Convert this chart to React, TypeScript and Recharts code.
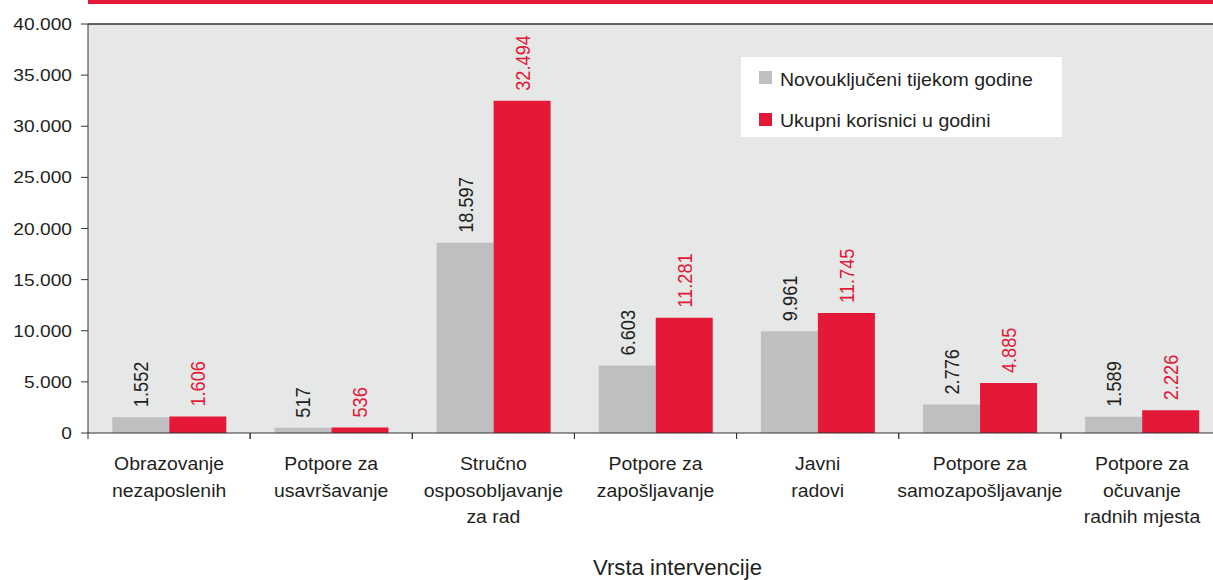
import React from 'react';
import { BarChart, Bar, XAxis, YAxis, CartesianGrid, ReferenceLine, LabelList, Legend } from 'recharts';

const categories = [
  'Obrazovanje\nnezaposlenih',
  'Potpore za\nusavršavanje',
  'Stručno\nosposobljavanje\nza rad',
  'Potpore za\nzapošljavanje',
  'Javni\nradovi',
  'Potpore za\nsamozapošljavanje',
  'Potpore za\nočuvanje\nradnih mjesta',
];
const novoukljuceni = [1552, 517, 18597, 6603, 9961, 2776, 1589];
const ukupni = [1606, 536, 32494, 11281, 11745, 4885, 2226];
const yTicks = [0, 5000, 10000, 15000, 20000, 25000, 30000, 35000, 40000];
const seriesNames = ['Novouključeni tijekom godine', 'Ukupni korisnici u godini'];
const axisTitle = 'Vrsta intervencije';

const GREY = '#BEBFC1';
const RED = '#E31937';
const TEXT = '#231F20';
const BG = '#E6E7E7';
const FONT = '"Liberation Sans", Arial, Helvetica, sans-serif';

const data = categories.map((c, i) => ({ name: c, novi: novoukljuceni[i], ukupni: ukupni[i] }));

const fmt = (n: number) => String(n).replace(/\B(?=(\d{3})+(?!\d))/g, '.');

const XTick = (props: any) => {
  const { x, y, payload } = props;
  const half = typeof payload.offset === 'number' && payload.offset > 0 ? payload.offset : 1135 / 14;
  const axisY = y - 8;
  const lines = String(payload.value).split('\n');
  return (
    <g>
      <line x1={x - half} x2={x - half} y1={axisY} y2={axisY + 6} stroke="#333" strokeWidth={1} />
      <line x1={x + half} x2={x + half} y1={axisY} y2={axisY + 6} stroke="#333" strokeWidth={1} />
      {lines.map((l, i) => (
        <g key={i} transform={`translate(${x}, ${y + 29 + i * 26.5}) scale(1.05, 1)`}>
          <text x={0} y={0} textAnchor="middle" fill={TEXT} fontSize={18.5} fontFamily={FONT}>
            {l}
          </text>
        </g>
      ))}
    </g>
  );
};

const YTick = (props: any) => {
  const { x, y, payload } = props;
  return (
    <g transform={`translate(${x}, ${y}) scale(1.13, 1)`}>
      <text x={0} y={0} dy="0.355em" textAnchor="end" fill={TEXT} fontSize={17} fontFamily={FONT}>
        {fmt(Number(payload.value))}
      </text>
    </g>
  );
};

const makeValueLabel = (color: string) => (props: any) => {
  const { x, y, width, value } = props;
  const ax = Number(x) + Number(width) / 2 + 7.5;
  const ay = Number(y) - 10;
  return (
    <g transform={`translate(${ax}, ${ay}) scale(1.14, 1) rotate(-90)`}>
      <text x={0} y={0} textAnchor="start" fill={color} fontSize={18.2} fontFamily={FONT}>
        {fmt(Number(value))}
      </text>
    </g>
  );
};

const AxisTitle = (props: any) => {
  const vb = props.viewBox || {};
  const cx = (vb.x ?? 88) + (vb.width ?? 1135) / 2 + 22;
  return (
    <g transform={`translate(${cx}, 575) scale(1.03, 1)`}>
      <text x={0} y={0} textAnchor="middle" fill={TEXT} fontSize={21.5} fontFamily={FONT}>
        {axisTitle}
      </text>
    </g>
  );
};

const LegendBox = () => (
  <svg width={321} height={80} style={{ display: 'block' }}>
    <rect x={0} y={0} width={321} height={80} fill="#FFFFFF" />
    <rect x={18} y={14} width={13} height={13} fill={GREY} />
    <g transform="translate(39, 29) scale(1.05, 1)">
      <text x={0} y={0} fill={TEXT} fontSize={18.6} fontFamily={FONT}>{seriesNames[0]}</text>
    </g>
    <rect x={18} y={56} width={13} height={13} fill={RED} />
    <g transform="translate(39, 69.5) scale(1.05, 1)">
      <text x={0} y={0} fill={TEXT} fontSize={18.6} fontFamily={FONT}>{seriesNames[1]}</text>
    </g>
  </svg>
);

export default function App() {
  return (
    <div style={{ position: 'absolute', left: 0, top: 0, width: 1213, height: 580, overflow: 'hidden', background: '#fff', fontFamily: FONT }}>
      <BarChart
        width={1240}
        height={580}
        data={data}
        margin={{ top: 24, right: 17, bottom: 0, left: 0 }}
        barCategoryGap="15%"
        barGap={0}
      >
        <CartesianGrid fill={BG} horizontal={false} vertical={false} stroke="none" />
        <XAxis
          dataKey="name"
          height={147}
          interval={0}
          tickSize={6}
          tickMargin={2}
          tickLine={false}
          axisLine={{ stroke: '#333', strokeWidth: 1 }}
          tick={<XTick />}
          label={<AxisTitle />}
        />
        <YAxis
          width={88}
          domain={[0, 40000]}
          ticks={yTicks}
          interval={0}
          tickSize={7}
          tickMargin={9}
          tick={<YTick />}
          axisLine={{ stroke: '#333', strokeWidth: 1 }}
          tickLine={{ stroke: '#333', strokeWidth: 1 }}
        />
        <ReferenceLine y={40000} stroke="#333" strokeWidth={1.5} ifOverflow="visible" />
        <Legend
          layout="vertical"
          align="center"
          verticalAlign="middle"
          wrapperStyle={{ position: 'absolute', left: 741, top: 57, width: 321, height: 80 }}
          content={() => <LegendBox />}
        />
        <Bar dataKey="novi" name={seriesNames[0]} fill={GREY} isAnimationActive={false}>
          <LabelList dataKey="novi" content={makeValueLabel(TEXT)} />
        </Bar>
        <Bar dataKey="ukupni" name={seriesNames[1]} fill={RED} isAnimationActive={false}>
          <LabelList dataKey="ukupni" content={makeValueLabel(RED)} />
        </Bar>
      </BarChart>
      <div style={{ position: 'absolute', left: 88, top: 0, width: 1200, height: 4, background: RED }} />
    </div>
  );
}
